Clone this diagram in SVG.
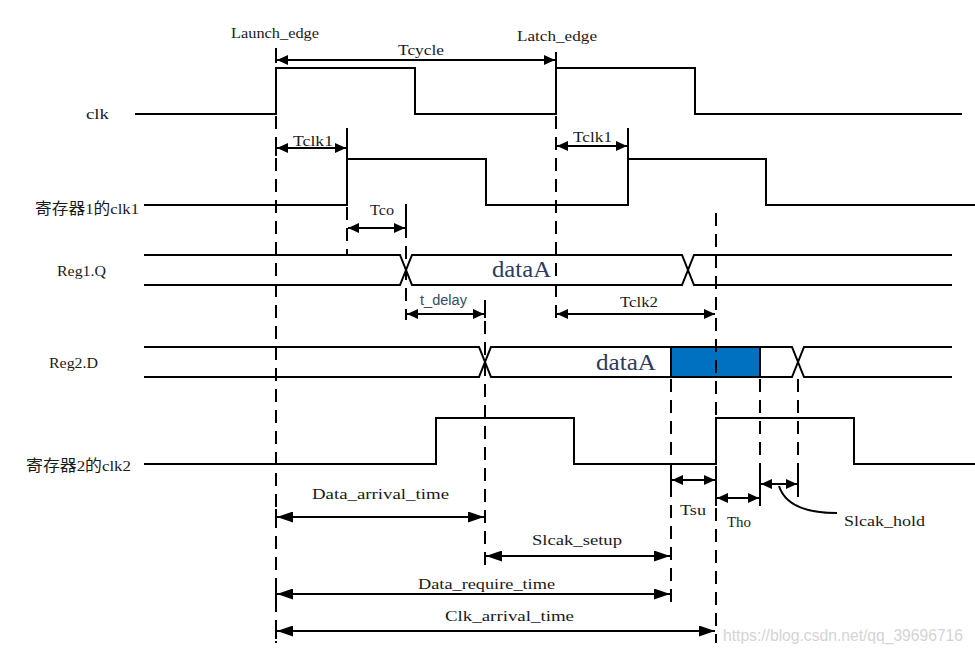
<svg xmlns="http://www.w3.org/2000/svg" width="975" height="656" viewBox="0 0 975 656">
<defs>
<marker id="as" markerUnits="userSpaceOnUse" markerWidth="11" markerHeight="10" refX="11" refY="5" orient="auto-start-reverse"><path d="M0,0 L11,5 L0,10 z" fill="#000"/></marker>
<marker id="al" markerUnits="userSpaceOnUse" markerWidth="16" markerHeight="11" refX="16" refY="5.5" orient="auto-start-reverse"><path d="M0,0 L16,5.5 L0,11 z" fill="#000"/></marker>
<style>
.w{fill:none;stroke:#000;stroke-width:2}
.d{fill:none;stroke:#000;stroke-width:2;stroke-dasharray:13 8}
.s{fill:none;stroke:#000;stroke-width:2;marker-start:url(#as);marker-end:url(#as)}
.l{fill:none;stroke:#000;stroke-width:2;marker-start:url(#al);marker-end:url(#al)}
.t{font-family:"Liberation Serif","Noto Sans CJK SC",serif;font-size:15.5px;fill:#1a1a1a}
.dA{font-family:"Liberation Serif",serif;font-size:23px;fill:#2e3b5e}
.sans{font-family:"Liberation Sans",Arial,sans-serif;font-size:14px;fill:#3a4a60}
</style>
</defs>
<g id="clk">
<text class="t" x="86" y="119" textLength="23" lengthAdjust="spacingAndGlyphs">clk</text>
<path class="w" d="M135,114 H276 V68 H415 V114 H556 V68 H695 V114 H962"/>
</g>
<g id="clk1">
<text class="t" x="35" y="214" textLength="104" lengthAdjust="spacingAndGlyphs">寄存器1的clk1</text>
<path class="w" d="M144,205 H347 V159 H486 V205 H628 V159 H766 V205 H975"/>
</g>
<g id="reg1q">
<text class="t" x="57" y="276" textLength="49" lengthAdjust="spacingAndGlyphs">Reg1.Q</text>
<path class="w" d="M144,255 H400 L412,285 H682 L694,255 H952 M144,285 H400 L412,255 H682 L694,285 H952"/>
<text class="dA" x="492" y="277" textLength="59" lengthAdjust="spacingAndGlyphs">dataA</text>
</g>
<g id="reg2d">
<text class="t" x="49" y="368" textLength="49" lengthAdjust="spacingAndGlyphs">Reg2.D</text>
<path class="w" d="M144,347 H479 L491,377 H671 M144,377 H479 L491,347 H671 M760,347 H792 L804,377 H952 M760,377 H792 L804,347 H952"/>
<rect x="671" y="347" width="89" height="30" fill="#0070c0" stroke="#000" stroke-width="2"/>
<text class="dA" x="596" y="370" textLength="60" lengthAdjust="spacingAndGlyphs">dataA</text>
</g>
<g id="clk2">
<text class="t" x="26" y="471" textLength="105" lengthAdjust="spacingAndGlyphs">寄存器2的clk2</text>
<path class="w" d="M144,464 H436 V418 H574 V464 H716 V418 H854 V464 H975"/>
</g>
<g id="labels">
<text class="t" x="231" y="38" textLength="88" lengthAdjust="spacingAndGlyphs">Launch_edge</text>
<text class="t" x="517" y="41" textLength="80" lengthAdjust="spacingAndGlyphs">Latch_edge</text>
<text class="t" x="398" y="55" textLength="46" lengthAdjust="spacingAndGlyphs">Tcycle</text>
<text class="t" x="293" y="146" textLength="40" lengthAdjust="spacingAndGlyphs">Tclk1</text>
<text class="t" x="573" y="142" textLength="39" lengthAdjust="spacingAndGlyphs">Tclk1</text>
<text class="t" x="370" y="215" textLength="24" lengthAdjust="spacingAndGlyphs">Tco</text>
<text class="sans" x="420" y="305" textLength="47" lengthAdjust="spacingAndGlyphs">t_delay</text>
<text class="t" x="620" y="307" textLength="38" lengthAdjust="spacingAndGlyphs">Tclk2</text>
<text class="t" x="312" y="499" textLength="137" lengthAdjust="spacingAndGlyphs">Data_arrival_time</text>
<text class="t" x="532" y="545" textLength="90" lengthAdjust="spacingAndGlyphs">Slcak_setup</text>
<text class="t" x="418" y="589" textLength="137" lengthAdjust="spacingAndGlyphs">Data_require_time</text>
<text class="t" x="445" y="621" textLength="129" lengthAdjust="spacingAndGlyphs">Clk_arrival_time</text>
<text class="t" x="680" y="515" textLength="26" lengthAdjust="spacingAndGlyphs">Tsu</text>
<text class="t" x="727" y="527" textLength="24" lengthAdjust="spacingAndGlyphs">Tho</text>
<text class="t" x="844" y="526" textLength="81" lengthAdjust="spacingAndGlyphs">Slcak_hold</text>
<text x="723" y="641" textLength="240" lengthAdjust="spacingAndGlyphs" style="font-family:'Liberation Sans',Arial,sans-serif;font-size:16px;fill:#d4d4d4">https://blog.csdn.net/qq_39696716</text>
</g>
<g id="connectors">
<path class="d" d="M276,116 V643"/>
<path class="d" d="M556,116 V325"/>
<path class="d" d="M716,213 V418 M716,466 V643"/>
<path class="d" d="M347,207 V255"/>
<path class="d" d="M406,204 V320"/>
<path class="d" d="M485,300 V565"/>
<path class="d" d="M671,379 V605"/>
<path class="d" d="M760,379 V505"/>
<path class="d" d="M798,379 V505"/>
<path class="w" d="M276,48 V63 M556,52 V68 M347,128 V159 M628,128 V159 M276,141 V156 M406,204 V232 M485,300 V318 M276,509 V525 M276,586 V601 M276,624 V639 M671,472 V488 M716,472 V488 M716,490 V506 M760,490 V506 M760,476 V492 M798,476 V492"/>
<path class="s" d="M277,60 H555"/>
<path class="s" d="M277,148 H346"/>
<path class="s" d="M557,146 H627"/>
<path class="s" d="M348,228 H405"/>
<path class="s" d="M407,314 H484"/>
<path class="s" d="M557,314 H715"/>
<path class="l" d="M277,517 H484"/>
<path class="l" d="M486,556 H670"/>
<path class="l" d="M277,594 H670"/>
<path class="l" d="M277,631 H715"/>
<path class="s" d="M672,480 H715"/>
<path class="s" d="M717,498 H759"/>
<path class="s" d="M761,484 H797"/>
<path class="w" d="M779,486 C785,505 805,513 837,513"/>
</g>
</svg>
